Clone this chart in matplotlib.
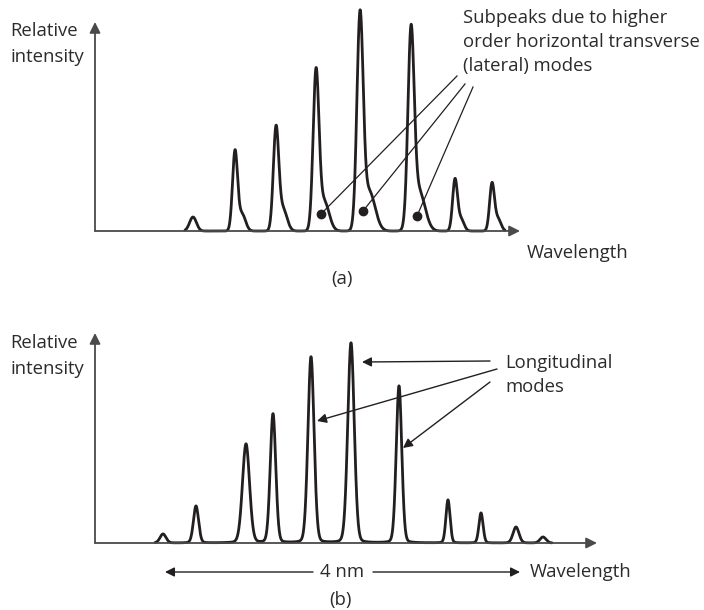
import numpy as np
import matplotlib.pyplot as plt

plt.rcParams['font.family'] = ['Open Sans', 'DejaVu Sans']

# wavelength axis in arbitrary units, intensity in arbitrary units
# (a) multimode spectrum: main peak centre, height, width, subpeak height, offset, width
a_centre = [98, 140, 181, 221, 265, 316, 360, 397]
a_height = [14, 79, 101, 155, 208, 190, 51, 47]
a_width = [3.4, 2.5, 2.7, 2.9, 3.1, 3.1, 2.4, 2.4]
a_sub_height = [0, 17, 22, 30, 40, 40, 12, 12]
a_sub_offset = [0, 7, 7, 8, 9, 8, 6, 6]
a_sub_width = [1, 3.5, 4.0, 5.0, 6.0, 6.0, 3.0, 3.0]

# (b) longitudinal modes
b_centre = [68, 101, 151, 178, 216, 256, 304, 353, 386, 421, 448]
b_height = [9, 37, 99, 129, 186, 200, 157, 43, 30, 16, 6]
b_width = [3.0, 2.6, 3.6, 2.8, 3.1, 3.3, 2.8, 2.1, 2.1, 3.0, 3.0]

# annotation anchor points
a_leader_start = [(362, 155), (370, 147), (378, 144)]
a_leader_end = [(226, 17), (268, 20), (322, 15)]
b_arrow_start = [(395, 182), (402, 174), (395, 161)]
b_arrow_end = [(267, 181), (222, 122), (308, 95)]

ink = '#231f20'
text_col = '#2b2b2b'
axis_col = '#4a4a4a'
fs = 13.3


def gauss(x, c, h, s):
    return h*np.exp(-(x-c)**2/(2*s**2))


def lorentz(x, c, h, g):
    return h/(1+((x-c)/g)**2)


fig = plt.figure(figsize=(7.04, 6.10), dpi=100)
ax_a = fig.add_axes([0, 310/610, 1, 300/610])
ax_b = fig.add_axes([0, 0, 1, 310/610])
ax_a.set_xlim(-95, 609)
ax_a.set_ylim(-69, 231)
ax_b.set_xlim(-95, 609)
ax_b.set_ylim(-67, 243)
for ax in (ax_a, ax_b):
    ax.axis('off')

arr = dict(arrowstyle='-|>', lw=1.3, color=axis_col, mutation_scale=16,
           shrinkA=0, shrinkB=0)

# panel (a)
xa = np.linspace(90, 410, 3000)
ya = np.zeros_like(xa)
for i in range(len(a_centre)):
    ya += gauss(xa, a_centre[i], a_height[i], a_width[i])
    if a_sub_height[i] > 0:
        ya += gauss(xa, a_centre[i]+a_sub_offset[i], a_sub_height[i], a_sub_width[i])
ax_a.annotate('', xy=(0, 209), xytext=(0, 0), arrowprops=arr)
ax_a.annotate('', xy=(425, 0), xytext=(0, 0), arrowprops=arr)
ax_a.plot(xa, ya, color=ink, lw=2.0, solid_capstyle='round')
ax_a.text(-85, 187, 'Relative\nintensity', fontsize=fs, color=text_col,
          va='center', ha='left', linespacing=1.5)
ax_a.text(368, 189, 'Subpeaks due to higher\norder horizontal transverse\n(lateral) modes',
          fontsize=fs, color=text_col, va='center', ha='left', linespacing=1.45)
ax_a.text(432, -22, 'Wavelength', fontsize=fs, color=text_col, va='center', ha='left')
ax_a.text(247, -48, '(a)', fontsize=fs, color=text_col, va='center', ha='center')
for (x0, y0), (x1, y1) in zip(a_leader_start, a_leader_end):
    ax_a.plot([x0, x1], [y0, y1], color=ink, lw=0.9)
    ax_a.plot(x1, y1, 'o', color=ink, ms=6)

# panel (b)
xb = np.linspace(60, 457, 3000)
yb = np.zeros_like(xb)
for i in range(len(b_centre)):
    yb += 0.88*gauss(xb, b_centre[i], b_height[i], b_width[i])
    yb += 0.12*lorentz(xb, b_centre[i], b_height[i], b_width[i])
ax_b.annotate('', xy=(0, 210), xytext=(0, 0), arrowprops=arr)
ax_b.annotate('', xy=(502, 0), xytext=(0, 0), arrowprops=arr)
ax_b.plot(xb, yb, color=ink, lw=2.0, solid_capstyle='round')
ax_b.text(-85, 187, 'Relative\nintensity', fontsize=fs, color=text_col,
          va='center', ha='left', linespacing=1.5)
ax_b.text(410, 168, 'Longitudinal\nmodes', fontsize=fs, color=text_col,
          va='center', ha='left', linespacing=1.45)
thin = dict(arrowstyle='-|>', lw=1.0, color=ink, mutation_scale=14,
            shrinkA=0, shrinkB=0)
for s, e in zip(b_arrow_start, b_arrow_end):
    ax_b.annotate('', xy=e, xytext=s, arrowprops=thin)
ax_b.annotate('', xy=(70, -29), xytext=(218, -29), arrowprops=thin)
ax_b.annotate('', xy=(425, -29), xytext=(278, -29), arrowprops=thin)
ax_b.text(247, -29, '4 nm', fontsize=fs, color=text_col, va='center', ha='center')
ax_b.text(435, -29, 'Wavelength', fontsize=fs, color=text_col, va='center', ha='left')
ax_b.text(245, -57, '(b)', fontsize=fs, color=text_col, va='center', ha='center')

fig.savefig('out.png', dpi=100)
